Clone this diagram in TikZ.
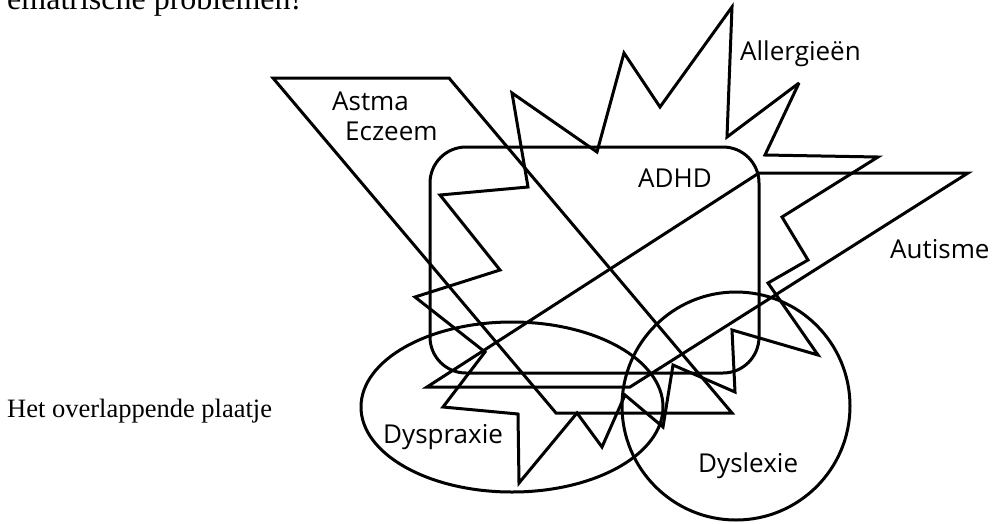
\documentclass[tikz,border=0pt]{standalone}
\usepackage{fontspec}
\setmainfont{Liberation Serif}
\newfontfamily\hand{Open Sans}
\begin{document}
\begin{tikzpicture}[x=1pt,y=-1pt,
  outline/.style={draw=black, line width=3pt, line join=miter, miter limit=4},
  lbl/.style={font=\hand\fontsize{26}{30}\selectfont, inner sep=0pt, anchor=base west},
  body/.style={font=\fontsize{26.5}{32}\selectfont, inner sep=0pt, anchor=base west}]
\useasboundingbox (0,0) rectangle (1002,523);
\fill[white] (0,0) rectangle (1002,523);
\begin{scope}
\clip (0,0) rectangle (1002,523);
\node[body, font=\fontsize{32}{38}\selectfont] (toptext) at (7,9) {ematrische problemen!};
\end{scope}
\node[body] (caption) at (7,417) {Het overlappende plaatje};
% Astma / Eczeem parallelogram
\draw[outline] (273,78) -- (449,78) -- (732,413) -- (556,413) -- cycle;
% ADHD rounded rectangle
\draw[outline, rounded corners=36pt] (430,147) rectangle (759,373);
% Allergieen star
\draw[outline] (512,93) -- (597,152) -- (624,53) -- (660,107) -- (732,7) -- (727,137)
  -- (799,83) -- (765,155) -- (878,157) -- (782,217) -- (808,260) -- (768,283)
  -- (818,355) -- (732,330) -- (735,392) -- (673,365) -- (663,427) -- (625,395)
  -- (602,447) -- (577,413) -- (519,483) -- (518,414) -- (443,407) -- (485,352)
  -- (415,297) -- (500,270) -- (440,195) -- (528,187) -- cycle;
% Autisme parallelogram
\draw[outline] (759,173) -- (968,173) -- (630,387) -- (427,387) -- cycle;
% Dyspraxie ellipse
\draw[outline] (512,407) ellipse [x radius=151pt, y radius=85pt];
% Dyslexie circle
\draw[outline] (736,406) circle [radius=114pt];
% labels
\node[lbl] (astma) at (332,110) {Astma};
\node[lbl] (eczeem) at (345,140) {Eczeem};
\node[lbl] (allergie) at (740,60) {Allergieën};
\node[lbl] (adhd) at (638,187) {ADHD};
\node[lbl] (autisme) at (890,258) {Autisme};
\node[lbl] (dyspraxie) at (383,443) {Dyspraxie};
\node[lbl] (dyslexie) at (698,472) {Dyslexie};
\end{tikzpicture}
\end{document}
